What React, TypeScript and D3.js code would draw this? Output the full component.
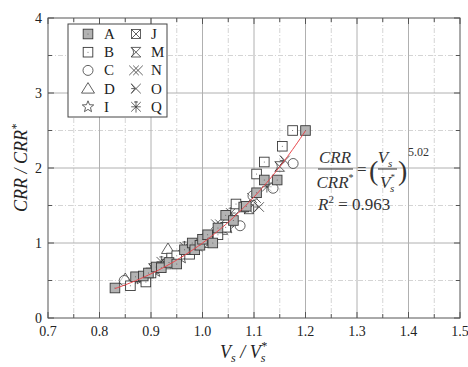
import React from "react";
import * as d3 from "d3";

const xTicks = [0.7, 0.8, 0.9, 1.0, 1.1, 1.2, 1.3, 1.4, 1.5];
const yTicks = [0, 1, 2, 3, 4];

const seriesA: [number, number][] = [[0.83,0.40],[0.87,0.55],[0.885,0.56],[0.895,0.60],[0.91,0.68],[0.92,0.67],[0.935,0.74],[0.95,0.72],[0.965,0.91],[0.98,1.0],[0.985,0.91],[0.995,0.97],[1.0,1.05],[1.01,1.11],[1.02,1.0],[1.03,1.2],[1.045,1.37],[1.06,1.3],[1.08,1.48],[1.085,1.49],[1.105,1.67],[1.12,1.84],[1.145,1.84],[1.2,2.5]];
const seriesB: [number, number][] = [[0.86,0.43],[0.89,0.48],[0.9,0.6],[0.94,0.8],[0.95,0.83],[0.975,0.85],[1.03,1.11],[1.045,1.21],[1.065,1.52],[1.105,1.92],[1.12,2.08],[1.155,2.29],[1.175,2.5]];
const seriesC: [number, number][] = [[0.848,0.5],[0.96,0.85],[1.0,1.0],[1.073,1.23],[1.098,1.63],[1.137,1.73],[1.176,2.06]];
const seriesD: [number, number][] = [[0.85,0.52],[0.933,0.92],[1.0,1.0]];
const seriesI: [number, number][] = [[0.88,0.52],[0.91,0.62],[0.96,0.8],[1.05,1.2]];
const seriesJ: [number, number][] = [[0.94,0.78],[1.02,1.08],[1.09,1.45]];
const seriesM: [number, number][] = [[0.905,0.66],[0.93,0.72],[1.04,1.18],[1.15,2.02]];
const seriesN: [number, number][] = [[0.97,0.9],[1.015,1.02],[1.03,1.25],[1.1,1.6]];
const seriesO: [number, number][] = [[0.875,0.5],[0.99,0.95],[1.06,1.35],[1.11,1.48],[1.16,2.1]];
const seriesQ: [number, number][] = [[0.92,0.75],[0.965,0.95],[1.0,1.05],[1.055,1.4],[1.125,1.75]];

const fitExponent = 5.02;
const fitRange = [0.83, 1.2];
const legendNames = ["A", "B", "C", "D", "I", "J", "M", "N", "O", "Q"];

const W = 468, H = 367;
const L = 48, R = 460, T = 18, B = 318;
const STROKE = "#3a3a3a";
const SERIF = "Liberation Serif, Times New Roman, DejaVu Serif, serif";

function Marker({ type, x, y }: { type: string; x: number; y: number }) {
  const s = 4.8;
  const common = { stroke: STROKE, strokeWidth: 0.8, fill: "none" } as any;
  const X = `M${-s},${-s}L${s},${s}M${-s},${s}L${s},${-s}`;
  let el: any = null;
  switch (type) {
    case "A":
      el = <g><rect x={-s} y={-s} width={2 * s} height={2 * s} fill="#b3b3b3" stroke={STROKE} strokeWidth={0.9} /><circle r={0.5} fill="#555" /></g>;
      break;
    case "B":
      el = <g><rect x={-s} y={-s} width={2 * s} height={2 * s} fill="#fff" stroke={STROKE} strokeWidth={0.9} /><circle r={0.5} fill="#555" /></g>;
      break;
    case "C":
      el = <circle r={5} {...common} fill="rgba(255,255,255,0.6)" />;
      break;
    case "D":
      el = <path d="M0,-6L6.5,4.5L-6.5,4.5Z" {...common} fill="rgba(255,255,255,0.6)" />;
      break;
    case "I": {
      const pts: string[] = [];
      for (let i = 0; i < 10; i++) {
        const r = i % 2 === 0 ? 6 : 2.6;
        const a = -Math.PI / 2 + (i * Math.PI) / 5;
        pts.push(`${(r * Math.cos(a)).toFixed(2)},${(r * Math.sin(a)).toFixed(2)}`);
      }
      el = <path d={`M${pts.join("L")}Z`} {...common} />;
      break;
    }
    case "J":
      el = <g><rect x={-4.5} y={-4.5} width={9} height={9} {...common} /><path d="M-4.5,-4.5L4.5,4.5M-4.5,4.5L4.5,-4.5" {...common} /></g>;
      break;
    case "M":
      el = <path d={`${X}M${-s},${-s}L${s},${-s}M${-s},${s}L${s},${s}M${-s},${-s}Q0,0 ${-s},${s}`} {...common} />;
      break;
    case "N":
      el = <path d={`M${-s - 2},${-s}L${s - 2},${s}M${-s - 2},${s}L${s - 2},${-s}M${-s + 2},${-s}L${s + 2},${s}M${-s + 2},${s}L${s + 2},${-s}`} {...common} />;
      break;
    case "O":
      el = <path d={`${X}M${-s},${-s}L-1,0L${-s},${s}M-1,0L${-s},0`} {...common} />;
      break;
    case "Q":
      el = <path d={`${X}M0,${-s - 1}L0,${s + 1}M${-s},0L${s},0M-2,${-s}L2,${-s}`} {...common} />;
      break;
  }
  return <g transform={`translate(${x},${y})`}>{el}</g>;
}

export default function App() {
  const x = d3.scaleLinear().domain([0.7, 1.5]).range([L, R]);
  const y = d3.scaleLinear().domain([0, 4]).range([B, T]);

  const xMinor = d3.range(0.75, 1.5, 0.1);
  const yMinor = d3.range(0.5, 4, 1);
  const xMinorTicks = d3.range(0.7, 1.5001, 0.05);
  const yMinorTicks = d3.range(0, 4.0001, 0.5);

  const fitPts = d3.range(fitRange[0], fitRange[1] + 0.0001, 0.005).map((v) => [v, Math.pow(v, fitExponent)] as [number, number]);
  const line = d3.line<[number, number]>().x((d) => x(d[0])).y((d) => y(d[1]));

  const series: [string, [number, number][]][] = [
    ["Q", seriesQ], ["O", seriesO], ["N", seriesN], ["M", seriesM], ["J", seriesJ],
    ["I", seriesI], ["D", seriesD], ["C", seriesC], ["B", seriesB], ["A", seriesA],
  ];

  const tickStyle = { fontFamily: SERIF, fontSize: 14, fill: "#222" };
  const mathStyle = { fontFamily: SERIF, fontSize: 17, fill: "#333" };

  return (
    <svg width={W} height={H} style={{ position: "absolute", left: 0, top: 0 }}>
      <rect width={W} height={H} fill="#fff" />
      {xMinor.map((v) => (
        <line key={"xm" + v} x1={x(v)} x2={x(v)} y1={T} y2={B} stroke="#d4d4d4" strokeWidth={1} strokeDasharray="5,2,1,2" />
      ))}
      {yMinor.map((v) => (
        <line key={"ym" + v} x1={L} x2={R} y1={y(v)} y2={y(v)} stroke="#d4d4d4" strokeWidth={1} strokeDasharray="5,2,1,2" />
      ))}
      {xTicks.slice(1, -1).map((v) => (
        <line key={"xg" + v} x1={x(v)} x2={x(v)} y1={T} y2={B} stroke="#b0b0b0" strokeWidth={1} />
      ))}
      {yTicks.slice(1, -1).map((v) => (
        <line key={"yg" + v} x1={L} x2={R} y1={y(v)} y2={y(v)} stroke="#b0b0b0" strokeWidth={1} />
      ))}
      <rect x={L} y={T} width={R - L} height={B - T} fill="none" stroke="#555" strokeWidth={1} />
      {xMinorTicks.map((v, i) => {
        const len = i % 2 === 0 ? 6 : 4;
        return (
          <g key={"xt" + i}>
            <line x1={x(v)} x2={x(v)} y1={B} y2={B - len} stroke="#555" />
            <line x1={x(v)} x2={x(v)} y1={T} y2={T + len} stroke="#555" />
          </g>
        );
      })}
      {yMinorTicks.map((v, i) => {
        const len = i % 2 === 0 ? 6 : 4;
        return (
          <g key={"yt" + i}>
            <line x1={L} x2={L + len} y1={y(v)} y2={y(v)} stroke="#555" />
            <line x1={R} x2={R - len} y1={y(v)} y2={y(v)} stroke="#555" />
          </g>
        );
      })}
      {xTicks.map((v) => (
        <text key={"xl" + v} x={x(v)} y={B + 18} textAnchor="middle" style={tickStyle}>{v.toFixed(1)}</text>
      ))}
      {yTicks.map((v) => (
        <text key={"yl" + v} x={L - 6} y={y(v) + 5} textAnchor="end" style={tickStyle}>{v}</text>
      ))}
      <text transform={`translate(27,${(T + B) / 2}) rotate(-90)`} textAnchor="middle" style={{ fontFamily: SERIF, fontSize: 18, fontStyle: "italic", fill: "#222" }}>
        CRR / CRR<tspan dy={-7} style={{ fontSize: 12 }}>*</tspan>
      </text>
      <text x={220} y={358} textAnchor="start" style={{ fontFamily: SERIF, fontSize: 18, fontStyle: "italic", fill: "#222" }}>
        V<tspan dy={4} style={{ fontSize: 12 }}>s</tspan><tspan dy={-4}> / V</tspan><tspan dy={-8} style={{ fontSize: 12 }}>*</tspan><tspan dx={-6} dy={12} style={{ fontSize: 12 }}>s</tspan>
      </text>
      {series.map(([name, pts]) =>
        pts.map((p, i) => <Marker key={name + i} type={name} x={x(p[0])} y={y(p[1])} />)
      )}
      <path d={line(fitPts) || ""} fill="none" stroke="#e8474c" strokeWidth={1} />
      <rect x={68} y={24} width={99} height={93} fill="#fff" stroke="#444" strokeWidth={1} />
      {legendNames.map((n, i) => {
        const col = Math.floor(i / 5);
        const row = i % 5;
        const cy = 34 + row * 18.2;
        const mx = col === 0 ? 88 : 136;
        const tx = col === 0 ? 104 : 151;
        return (
          <g key={"lg" + n}>
            <Marker type={n} x={mx} y={cy} />
            <text x={tx} y={cy + 5} style={{ fontFamily: SERIF, fontSize: 15, fill: "#222" }}>{n}</text>
          </g>
        );
      })}
      <g style={mathStyle}>
        <text x={335} y={163} textAnchor="middle" fontStyle="italic">CRR</text>
        <line x1={318} x2={353} y1={169} y2={169} stroke="#333" strokeWidth={1} />
        <text x={335} y={188} textAnchor="middle" fontStyle="italic">CRR<tspan style={{ fontSize: 10, fontStyle: "normal" }} dy={-7}>*</tspan></text>
        <text x={357} y={175}>=</text>
        <text x={369} y={180} style={{ fontSize: 28 }}>(</text>
        <text x={385} y={163} textAnchor="middle" fontStyle="italic">V<tspan style={{ fontSize: 11 }} dy={4}>s</tspan></text>
        <line x1={378} x2={397} y1={169} y2={169} stroke="#333" strokeWidth={1} />
        <text x={380} y={188} fontStyle="italic">V<tspan style={{ fontSize: 9, fontStyle: "normal" }} dy={-8}>*</tspan><tspan style={{ fontSize: 11 }} dx={-5} dy={12}>s</tspan></text>
        <text x={398} y={180} style={{ fontSize: 28 }}>)</text>
        <text x={408} y={156} style={{ fontSize: 12 }}>5.02</text>
        <text x={318} y={210} fontStyle="italic">R<tspan style={{ fontSize: 11, fontStyle: "normal" }} dy={-7}>2</tspan><tspan style={{ fontStyle: "normal" }} dy={7}> = 0.963</tspan></text>
      </g>
    </svg>
  );
}
